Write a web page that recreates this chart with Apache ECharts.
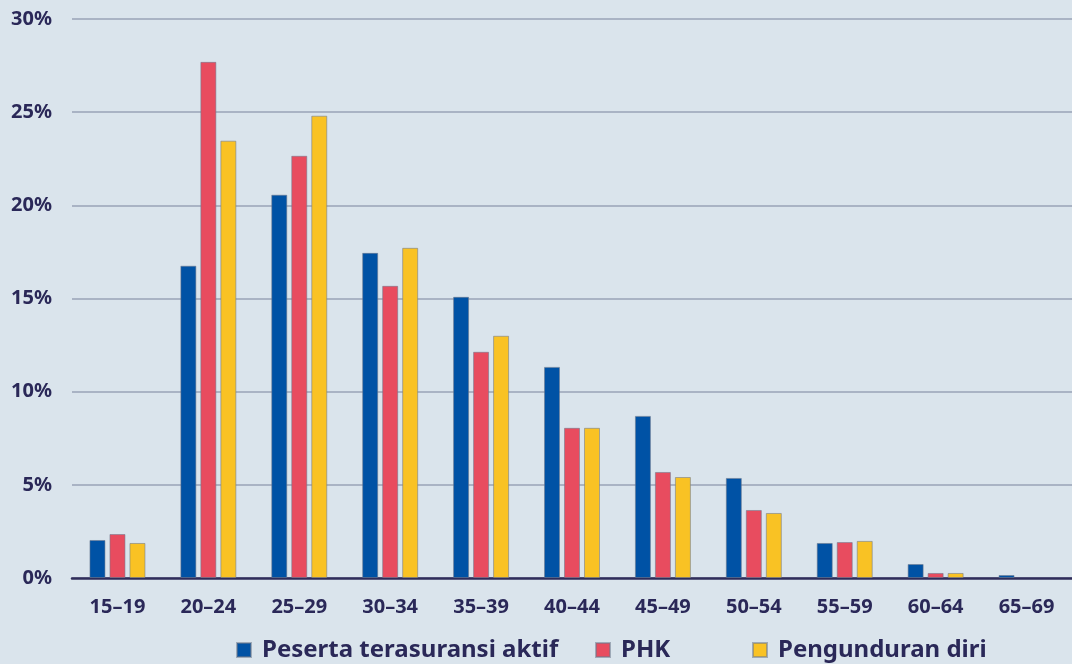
<!DOCTYPE html>
<html>
<head>
<meta charset="utf-8">
<script src="https://cdn.jsdelivr.net/npm/echarts@6/dist/echarts.min.js"></script>
<style>
  html, body { margin: 0; padding: 0; background: #dae4ec; }
  #chart { width: 1072px; height: 664px; }
</style>
</head>
<body>
<div id="chart"></div>
<script>
const categories = ['15–19', '20–24', '25–29', '30–34', '35–39', '40–44', '45–49', '50–54', '55–59', '60–64', '65–69'];
const aktif = [2.04, 16.76, 20.57, 17.45, 15.09, 11.33, 8.7, 5.37, 1.88, 0.75, 0.16];
const phk = [2.36, 27.7, 22.66, 15.68, 12.14, 8.06, 5.69, 3.65, 1.93, 0.27, 0];
const mundur = [1.88, 23.47, 24.81, 17.72, 13.0, 8.06, 5.42, 3.49, 1.99, 0.27, 0];
const seriesNames = ['Peserta terasuransi aktif', 'PHK', 'Pengunduran diri'];
const colors = ['#0052a5', '#e84c5f', '#f9c224'];

const textColor = '#2a2858';
const font = 'Noto Sans';

const chart = echarts.init(document.getElementById('chart'));

// zero bars get no outline so they stay invisible
const makeBar = (name, data, color) => ({
  name,
  type: 'bar',
  data: data.map(v => v > 0 ? v : { value: v, itemStyle: { borderWidth: 0 } }),
  barWidth: 16,
  barGap: '25%',
  itemStyle: { color, borderColor: 'rgba(110,120,140,0.55)', borderWidth: 1 }
});

const makeLegend = (name, left) => ({
  data: [name],
  left,
  top: 633,
  itemWidth: 14,
  itemHeight: 14,
  itemGap: 0,
  icon: 'rect',
  textStyle: { color: textColor, fontFamily: font, fontWeight: 'bold', fontSize: 24, padding: [0, 0, 0, 6] }
});

chart.setOption({
  backgroundColor: '#dae4ec',
  animation: false,
  grid: { left: 72, top: 19, width: 1010, height: 559, containLabel: false },
  legend: [
    makeLegend(seriesNames[0], 231),
    makeLegend(seriesNames[1], 590),
    makeLegend(seriesNames[2], 747)
  ],
  xAxis: {
    type: 'category',
    data: categories,
    axisTick: { show: false },
    axisLine: { lineStyle: { color: '#2f2d5a', width: 2.5 } },
    axisLabel: { color: textColor, fontFamily: font, fontWeight: 'bold', fontSize: 20, margin: 19 }
  },
  yAxis: {
    type: 'value',
    min: 0,
    max: 30,
    interval: 5,
    axisLine: { show: false },
    axisTick: { show: false },
    splitLine: { lineStyle: { color: '#a9b3c4', width: 2 } },
    axisLabel: { color: textColor, fontFamily: font, fontWeight: 'bold', fontSize: 20, margin: 20, formatter: '{value}%' }
  },
  series: [
    makeBar(seriesNames[0], aktif, colors[0]),
    makeBar(seriesNames[1], phk, colors[1]),
    makeBar(seriesNames[2], mundur, colors[2])
  ]
});
</script>
</body>
</html>
